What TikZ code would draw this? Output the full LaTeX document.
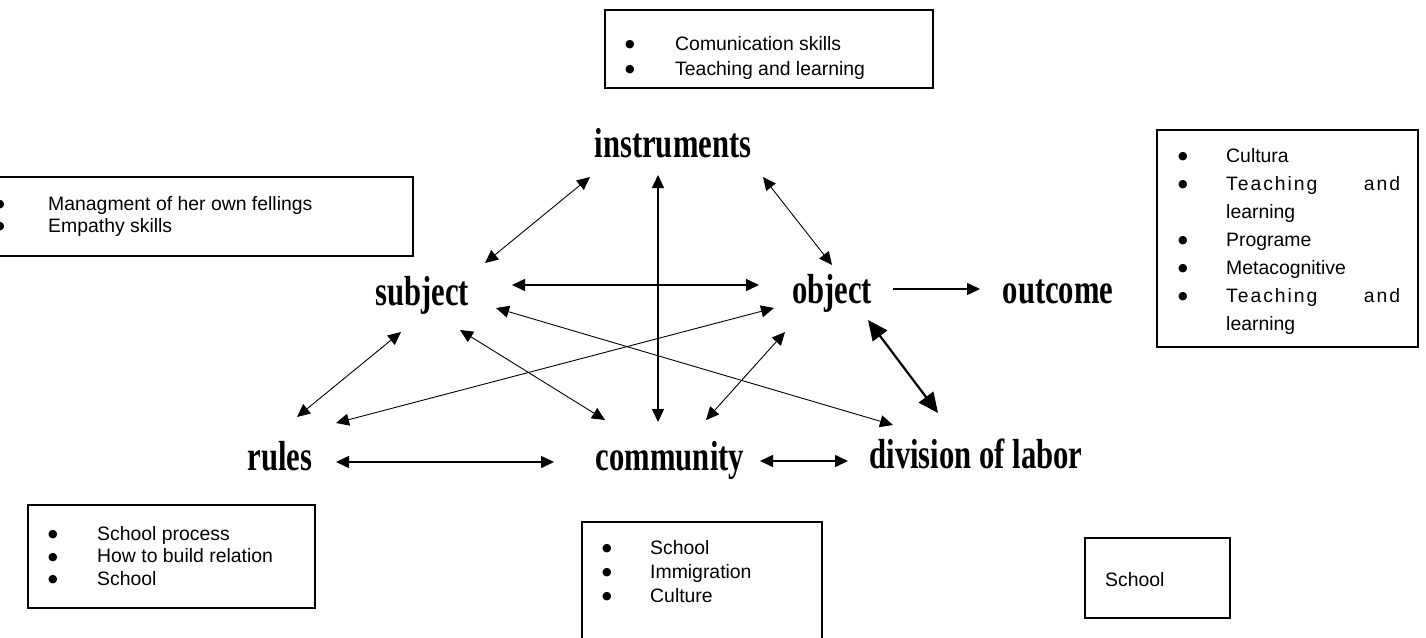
\documentclass[tikz,border=0pt]{standalone}
\usepackage{fontspec}
\setmainfont{Liberation Sans}
\newfontfamily\lblfont[FakeStretch=0.73]{Liberation Serif}
\newfontfamily\spacedfont[LetterSpace=10]{Liberation Sans}
\newfontfamily\bulfont{DejaVu Sans}
\usetikzlibrary{arrows.meta}
\newcommand{\notesize}[1]{\fontsize{19.4pt}{#1pt}\selectfont}
\newcommand{\bul}{\raisebox{2.5pt}{\bulfont\fontsize{11pt}{11pt}\selectfont ●}}

\begin{document}
\begin{tikzpicture}
		[x=1pt,y=-1pt,every node/.style={inner sep=0pt},
		 lbl/.style={anchor=base,font=\lblfont\bfseries\fontsize{42pt}{44pt}\selectfont},
		 note/.style={anchor=base west},
		 notebox/.style={draw,line width=1.3pt},
		 link/.style={{Triangle[length=13pt,width=12pt]}-{Triangle[length=13pt,width=12pt]},line width=0.9pt},
		 boldlink/.style={link,line width=1.5pt},
		 onelink/.style={-{Triangle[length=13pt,width=12pt]},line width=1.5pt},
		 biglink/.style={{Triangle[length=20pt,width=18pt]}-{Triangle[length=20pt,width=18pt]},line width=2.2pt}]
		\clip (0,0) rectangle (1426,637);
		
		% activity system
		\node[lbl] (instr) at (673,157) {instruments};
		\node[lbl] (subj)  at (422,305) {subject};
		\node[lbl] (obj)   at (832,303) {object};
		\node[lbl] (outc)  at (1058,303) {outcome};
		\node[lbl] (rules) at (280,470) {rules};
		\node[lbl] (comm)  at (670,470) {community};
		\node[lbl] (divl)  at (976,468) {division of labor};
		
		\foreach \p/\dx/\dy/\q/\ex/\ey in {instr/-83/20/subj/63/-42,instr/90/20/obj/0/-38,
			subj/74/3/divl/-83/-43,rules/56/-47/obj/-58/5,rules/17/-53/subj/-21/27,
			subj/38/25/comm/-65/-50,comm/36/-50/obj/-47/29}
		\draw[link] ([shift={(\dx,\dy)}]\p.base) -- ([shift={(\ex,\ey)}]\q.base);
		
		\foreach \p/\dx/\dy/\q/\ex/\ey in {instr/-15/18/comm/-12/-48,subj/90/-20/obj/-73/-18,
			rules/56/-8/comm/-116/-8,comm/90/-9/divl/-128/-7}
		\draw[boldlink] ([shift={(\dx,\dy)}]\p.base) -- ([shift={(\ex,\ey)}]\q.base);
		
		\draw[onelink] ([shift={(61,-14)}]obj.base) -- ([shift={(-78,-14)}]outc.base);
		\draw[biglink] ([shift={(36,17)}]obj.base) -- ([shift={(-38,-55)}]divl.base);
		
		% notes
		\draw[notebox] (605,10) rectangle (933,88);
		\node[note] (instrnote) at (625,50) {\notesize{25}\begin{tabular}[t]{@{}p{50pt}@{}l@{}}
			\bul & Comunication skills\\
			\bul & Teaching and learning\end{tabular}};
		
		\draw[notebox] (-40,177) rectangle (413,256);
		\node[note] (subjnote) at (-5,210) {\notesize{22}\begin{tabular}[t]{@{}p{53pt}@{}l@{}}
			\bul & Managment of her own fellings\\
			\bul & Empathy skills\end{tabular}};
		
		\draw[notebox] (1157,130) rectangle (1418,347);
		\node[note] (outcnote) at (1178,162) {\notesize{28}\begin{tabular}[t]{@{}p{48pt}@{}p{174pt}@{}}
			\bul & Cultura\\
			\bul & {\spacedfont Teaching}\hfill{\spacedfont and}\\
			& learning\\
			\bul & Programe\\
			\bul & Metacognitive\\
			\bul & {\spacedfont Teaching}\hfill{\spacedfont and}\\
			& learning\end{tabular}};
		
		\draw[notebox] (28,505) rectangle (315,608);
		\node[note] (rulesnote) at (48,540) {\notesize{22.5}\begin{tabular}[t]{@{}p{49pt}@{}l@{}}
			\bul & School process\\
			\bul & How to build relation\\
			\bul & School\end{tabular}};
		
		\draw[notebox] (582,522) rectangle (822,660);
		\node[note] (commnote) at (602,554) {\notesize{24}\begin{tabular}[t]{@{}p{48pt}@{}l@{}}
			\bul & School\\
			\bul & Immigration\\
			\bul & Culture\end{tabular}};
		
		\draw[notebox] (1085,538) rectangle (1230,618);
		\node[note] (divlnote) at (1105,586) {\notesize{22}School};
		\end{tikzpicture}
\end{document}
